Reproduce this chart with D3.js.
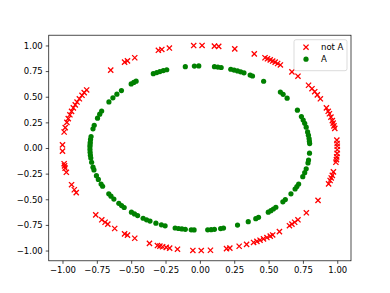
<!DOCTYPE html>
<html>
<head>
<meta charset="utf-8">
<script src="https://d3js.org/d3.v7.min.js"></script>
<style>
  body { margin: 0; background: #fff; }
  svg { display: block; font-family: "DejaVu Sans", sans-serif; }
</style>
</head>
<body>
<div id="chart"></div>
<script>
// "not A" points (outer ring)
const notAX = [0.997, 0.999, 1.000, 1.000, 0.999, 0.996, 0.994, 0.990,
  0.982, 0.976, 0.970, 0.964, 0.954, 0.943, 0.934, 0.921,
  0.877, 0.855, 0.836, 0.816, 0.791, 0.714, 0.670,
  0.586, 0.566, 0.548, 0.530, 0.512, 0.492, 0.474,
  0.396, 0.254, 0.137, 0.106, 0.016, -0.045,
  -0.222, -0.277, -0.302, -0.474, -0.527, -0.548, -0.649,
  -0.824, -0.842, -0.858, -0.877, -0.894, -0.907, -0.921, -0.934, -0.946, -0.958, -0.968, -0.980, -0.988,
  -1.000, -1.000, -0.988, -0.985, -0.981, -0.972, -0.934, -0.914, -0.900,
  -0.758, -0.714, -0.690, -0.670, -0.620, -0.548, -0.527, -0.474,
  -0.367, -0.309, -0.291, -0.271, -0.245, -0.220, -0.163,
  -0.051, 0.010, 0.077, 0.194, 0.218, 0.286, 0.340,
  0.391, 0.415, 0.438, 0.463, 0.488, 0.512, 0.530, 0.579,
  0.652, 0.670, 0.690, 0.714, 0.775, 0.860,
  0.937, 0.948, 0.956, 0.964, 0.972];
const notAY = [0.077, 0.044, 0.017, -0.017, -0.052, -0.087, -0.113, -0.139,
  0.191, 0.216, 0.242, 0.267, 0.301, 0.334, 0.358, 0.391,
  0.480, 0.518, 0.549, 0.578, 0.612, 0.700, 0.742,
  0.810, 0.824, 0.837, 0.848, 0.859, 0.870, 0.880,
  0.918, 0.967, 0.991, 0.994, 1.000, 0.999,
  0.975, 0.961, 0.953, 0.880, 0.850, 0.837, 0.760,
  0.566, 0.540, 0.514, 0.480, 0.448, 0.421, 0.391, 0.357, 0.324, 0.287, 0.250, 0.199, 0.156,
  0.030, -0.030, -0.153, -0.174, -0.196, -0.237, -0.358, -0.407, -0.435,
  -0.652, -0.700, -0.724, -0.742, -0.785, -0.837, -0.850, -0.880,
  -0.930, -0.951, -0.957, -0.963, -0.969, -0.976, -0.987,
  -0.999, -1.000, -0.997, -0.981, -0.976, -0.958, -0.940,
  -0.921, -0.910, -0.899, -0.886, -0.873, -0.859, -0.848, -0.815,
  -0.758, -0.742, -0.724, -0.700, -0.632, -0.511,
  -0.350, -0.317, -0.292, -0.267, -0.233];

// "A" points (inner ring)
const aX = [0.710, 0.739, 0.752, 0.763, 0.774, 0.784, 0.790, 0.795, 0.797, 0.799,
  0.635, 0.606, 0.586, 0.464, 0.383, 0.366,
  0.321, 0.297, 0.274, 0.249, 0.225, 0.155, 0.131, 0.106,
  -0.008, -0.040, -0.106, -0.241, -0.266, -0.291, -0.314, -0.339,
  -0.464, -0.481, -0.500, -0.571, -0.604, -0.633, -0.662,
  -0.715, -0.729, -0.745, -0.769, -0.778,
  -0.792, -0.796, -0.798, -0.799, -0.800, -0.800, -0.799, -0.797, -0.794,
  -0.788, -0.778, -0.771, -0.753, -0.739, -0.719, -0.708,
  -0.663, -0.647, -0.626, -0.590, -0.570, -0.551, -0.498, -0.476, -0.453,
  -0.413, -0.388, -0.363, -0.320, -0.280, -0.253,
  -0.180, -0.155, -0.131, -0.106, -0.063, -0.042,
  0.057, 0.082, 0.106, 0.151, 0.172, 0.274, 0.352, 0.407, 0.427,
  0.498, 0.517, 0.535, 0.553, 0.604, 0.622, 0.663,
  0.693, 0.706, 0.719, 0.749, 0.763, 0.774, 0.787, 0.791, 0.798];
const aY = [0.369, 0.306, 0.272, 0.241, 0.203, 0.157, 0.125, 0.092, 0.067, 0.043,
  0.486, 0.523, 0.545, 0.651, 0.702, 0.711,
  0.733, 0.743, 0.752, 0.760, 0.768, 0.785, 0.789, 0.793,
  0.800, 0.799, 0.793, 0.763, 0.755, 0.745, 0.736, 0.725,
  0.652, 0.639, 0.625, 0.560, 0.525, 0.489, 0.449,
  0.360, 0.330, 0.291, 0.221, 0.187,
  0.111, 0.084, 0.056, 0.035, 0.014, -0.014, -0.042, -0.070, -0.098,
  -0.139, -0.187, -0.214, -0.270, -0.306, -0.351, -0.373,
  -0.447, -0.470, -0.498, -0.540, -0.561, -0.580, -0.626, -0.643, -0.659,
  -0.685, -0.700, -0.713, -0.733, -0.749, -0.759,
  -0.780, -0.785, -0.789, -0.793, -0.798, -0.799,
  -0.798, -0.796, -0.793, -0.786, -0.781, -0.752, -0.718, -0.689, -0.676,
  -0.626, -0.611, -0.595, -0.578, -0.525, -0.503, -0.447,
  -0.400, -0.376, -0.351, -0.280, -0.241, -0.203, -0.146, -0.118, -0.050];

const xTicks = [-1.00, -0.75, -0.50, -0.25, 0.00, 0.25, 0.50, 0.75, 1.00];
const yTicks = [-1.00, -0.75, -0.50, -0.25, 0.00, 0.25, 0.50, 0.75, 1.00];
const legendLabels = ["not A", "A"];

const W = 390, H = 293;
const margin = { left: 48.75, right: 39, top: 35.2, bottom: 32.2 };
const width = W - margin.left - margin.right;
const height = H - margin.top - margin.bottom;

const svg = d3.select("#chart").append("svg")
  .attr("width", W)
  .attr("height", H);

const g = svg.append("g")
  .attr("transform", `translate(${margin.left},${margin.top})`);

// axis limits: data extent plus 5% padding, like matplotlib
function padded(vals) {
  const [lo, hi] = d3.extent(vals);
  const pad = (hi - lo) * 0.05;
  return [lo - pad, hi + pad];
}
const x = d3.scaleLinear().domain(padded(notAX.concat(aX))).range([0, width]);
const y = d3.scaleLinear().domain(padded(notAY.concat(aY))).range([height, 0]);

const fmt = d => d3.format(".2f")(d).replace("-", "\u2212");

// red x markers
const notA = notAX.map((v, i) => [v, notAY[i]]);
const a = aX.map((v, i) => [v, aY[i]]);
const s = 2.6;

function cross(sel) {
  sel.append("path")
    .attr("d", `M${-s},${-s}L${s},${s}M${-s},${s}L${s},${-s}`)
    .attr("stroke", "#ff0000")
    .attr("stroke-width", 1.3)
    .attr("fill", "none");
}

g.selectAll(".notA")
  .data(notA)
  .enter()
  .append("g")
  .attr("class", "notA")
  .attr("transform", d => `translate(${x(d[0])},${y(d[1])})`)
  .call(cross);

g.selectAll(".a")
  .data(a)
  .enter()
  .append("circle")
  .attr("class", "a")
  .attr("cx", d => x(d[0]))
  .attr("cy", d => y(d[1]))
  .attr("r", 2.6)
  .attr("fill", "#008000");

// frame
g.append("rect")
  .attr("width", width)
  .attr("height", height)
  .attr("fill", "none")
  .attr("stroke", "#000")
  .attr("stroke-width", 0.7);

// x axis
const xAxis = g.append("g")
  .attr("transform", `translate(0,${height})`)
  .call(d3.axisBottom(x).tickValues(xTicks).tickFormat(fmt).tickSize(3).tickPadding(3));
// y axis
const yAxis = g.append("g")
  .call(d3.axisLeft(y).tickValues(yTicks).tickFormat(fmt).tickSize(3).tickPadding(3));

[xAxis, yAxis].forEach(ax => {
  ax.select(".domain").remove();
  ax.selectAll(".tick line").attr("stroke", "#000").attr("stroke-width", 0.7);
  ax.selectAll(".tick text")
    .attr("fill", "#000")
    .attr("font-size", "8.5px")
    .attr("font-family", "DejaVu Sans");
});

// legend
const lg = g.append("g")
  .attr("transform", `translate(${width - 57},${4.5})`);

lg.append("rect")
  .attr("width", 53)
  .attr("height", 31)
  .attr("rx", 2)
  .attr("fill", "#fff")
  .attr("fill-opacity", 0.8)
  .attr("stroke", "#cccccc")
  .attr("stroke-width", 0.7);

lg.append("g")
  .attr("transform", "translate(12,7.5)")
  .call(cross);

lg.append("circle")
  .attr("cx", 12)
  .attr("cy", 19.5)
  .attr("r", 2.6)
  .attr("fill", "#008000");

lg.selectAll(".lab")
  .data(legendLabels)
  .enter()
  .append("text")
  .attr("class", "lab")
  .attr("x", 27)
  .attr("y", (d, i) => 7.5 + i * 12)
  .attr("dy", "0.35em")
  .attr("font-size", "8.5px")
  .attr("fill", "#000")
  .text(d => d);
</script>
</body>
</html>
